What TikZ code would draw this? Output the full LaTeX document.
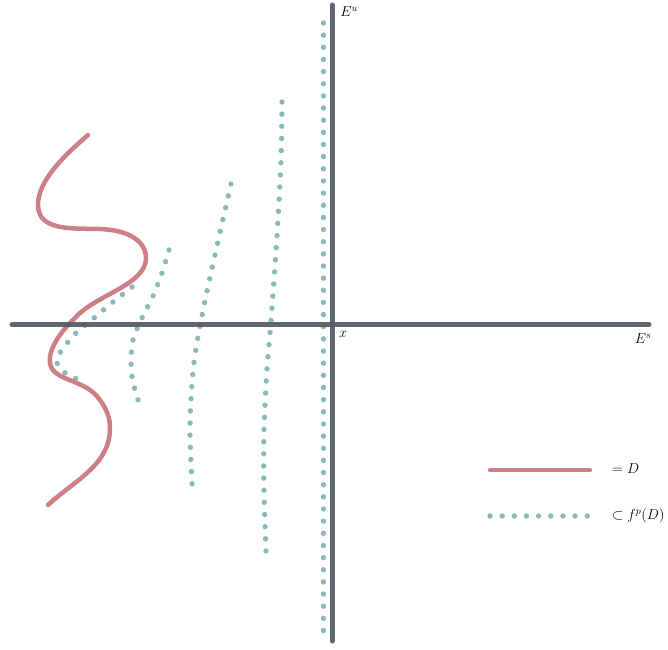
\documentclass[tikz,border=0pt]{standalone}
\usepackage{amsmath}
\usepackage{amssymb}
\usetikzlibrary{positioning}

\definecolor{discred}{RGB}{204,127,133}
\definecolor{imageteal}{RGB}{136,186,185}
\definecolor{axisgray}{RGB}{84,89,99}

\tikzset{
    axisline/.style={line width=5pt, axisgray, line cap=round, opacity=0.92},
    disc/.style={line width=4.5pt, discred, line cap=round},
    dotted image/.style={line width=5.4pt, imageteal, line cap=round, dash pattern=on 0pt off 12.15pt},
    axislabel/.style={inner sep=0pt, font=\Large}
}

\begin{document}
\begin{tikzpicture}[x=1pt, y=-1pt]
    \useasboundingbox (0,0) rectangle (668,649);

    % images of D
    \draw[dotted image] plot[smooth] coordinates {(132,287) (113,302) (94,318) (76,333) (61,351) (57,363) (64,372) (75,378) (86,384)};
    \draw[dotted image] plot[smooth] coordinates {(169,250) (162,273) (153,296) (142,318) (133,340) (131,364) (133,382) (138,400)};
    \draw[dotted image] plot[smooth] coordinates {(231,184) (223,219) (215,255) (207,291) (200,326) (194,362) (191,399) (190,435) (192,484)};
    \draw[dotted image] plot[smooth] coordinates {(282,102) (281,160) (277,236) (271,321) (267,369) (264,430) (264,491) (266,551)};
    \draw[dotted image] (323.5,23) -- (323.5,633);

    % the disc D
    \draw[disc] (88,135) .. controls (65,155) and (38,180) .. (38,205)
        .. controls (38,232) and (75,228) .. (100,229)
        .. controls (130,230) and (146,242) .. (146,258)
        .. controls (146,285) and (95,295) .. (75,318)
        .. controls (60,332) and (48,350) .. (50,363)
        .. controls (53,382) and (85,378) .. (100,400)
        .. controls (107,410) and (110,418) .. (110,428)
        .. controls (110,465) and (75,480) .. (48,505);

    % axes
    \draw[axisline] (12,324.5) -- (649,324.5);
    \draw[axisline] (332,5) -- (332,641);

    \node[axislabel] (Eu) at (349,12) {$E^u$};
    \node[axislabel] (origin) at (343,334) {$x$};
    \node[axislabel] (Es) at (643,339) {$E^s$};

    % legend
    \coordinate (discA) at (490,470);
    \coordinate (discB) at (590,470);
    \coordinate (imgA) at (490,516);
    \coordinate (imgB) at (590,516);
    \draw[disc] (discA) -- (discB);
    \draw[dotted image] (imgA) -- (imgB);
    \node[axislabel, anchor=west] (discKey) at (612,469) {$=D$};
    \node[axislabel, anchor=west] (imgKey) at (612,516) {$\subset f^p(D)$};
\end{tikzpicture}
\end{document}
